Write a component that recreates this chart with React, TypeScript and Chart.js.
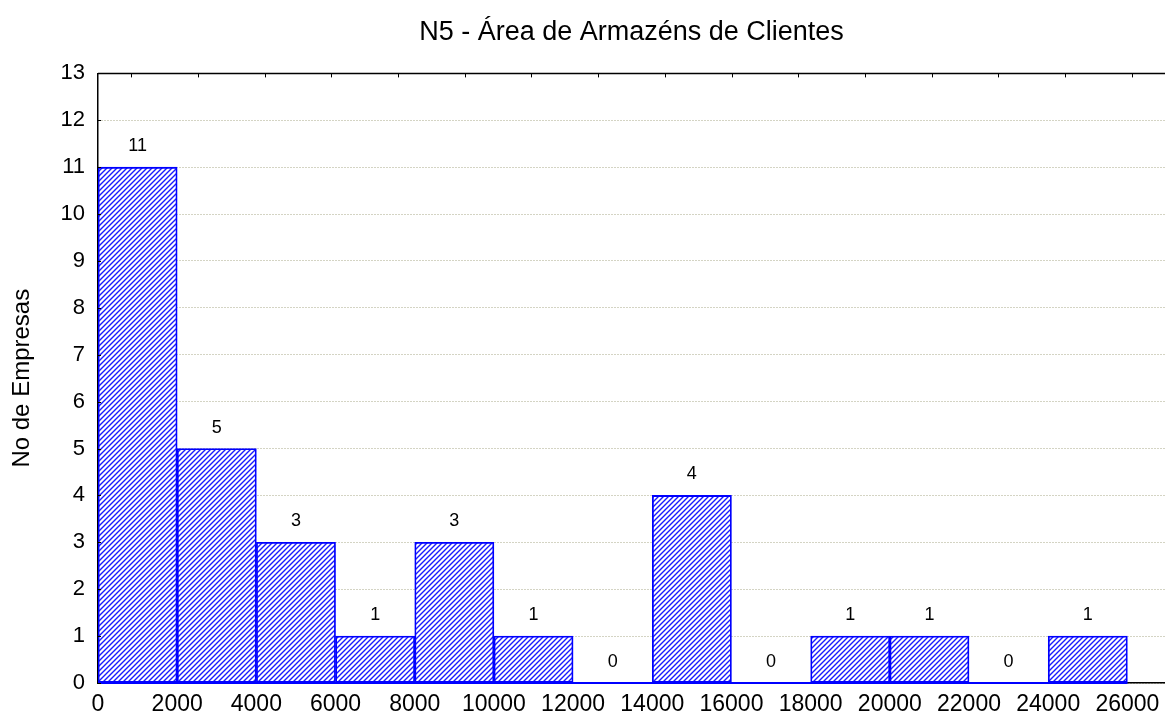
import React, { useEffect, useRef } from "react";
import { Chart, registerables } from "chart.js";

Chart.register(...registerables);

const chartTitle = "N5 - Área de Armazéns de Clientes";
const yAxisTitle = "No de Empresas";
const binStarts = [0, 2000, 4000, 6000, 8000, 10000, 12000, 14000, 16000, 18000, 20000, 22000, 24000];
const binWidth = 2000;
const counts = [11, 5, 3, 1, 3, 1, 0, 4, 0, 1, 1, 0, 1];
const xTickValues = [0, 2000, 4000, 6000, 8000, 10000, 12000, 14000, 16000, 18000, 20000, 22000, 24000, 26000];
const yTickValues = [0, 1, 2, 3, 4, 5, 6, 7, 8, 9, 10, 11, 12, 13];

const FONT = "Arial, 'Liberation Sans', sans-serif";

function makeHatch(): CanvasPattern | string {
  const c = document.createElement("canvas");
  c.width = 5;
  c.height = 5;
  const g = c.getContext("2d");
  if (!g) return "#6666ff";
  g.fillStyle = "#ffffff";
  g.fillRect(0, 0, 5, 5);
  g.strokeStyle = "#1a1aff";
  g.lineWidth = 1.4;
  g.beginPath();
  g.moveTo(-1, 6);
  g.lineTo(6, -1);
  g.moveTo(-1, 1);
  g.lineTo(1, -1);
  g.moveTo(4, 6);
  g.lineTo(6, 4);
  g.stroke();
  const p = g.createPattern(c, "repeat");
  return p || "#6666ff";
}

const decorPlugin = {
  id: "decor",
  afterDatasetsDraw(chart: any) {
    const { ctx, chartArea } = chart;
    const xs = chart.scales.x;
    const ys = chart.scales.y;
    ctx.save();
    // blue baseline under the bins (visible for empty bins)
    ctx.strokeStyle = "#0000ff";
    ctx.lineWidth = 2;
    ctx.beginPath();
    ctx.moveTo(xs.getPixelForValue(binStarts[0]), chartArea.bottom);
    ctx.lineTo(xs.getPixelForValue(binStarts[binStarts.length - 1] + binWidth), chartArea.bottom);
    ctx.stroke();
    // value labels
    const meta = chart.getDatasetMeta(0);
    ctx.fillStyle = "#000";
    ctx.font = `18px ${FONT}`;
    ctx.textAlign = "center";
    ctx.textBaseline = "middle";
    meta.data.forEach((el: any, i: number) => {
      ctx.fillText(String(counts[i]), el.x, el.y - 21);
    });
    // top frame line with small inward ticks
    ctx.strokeStyle = "#000";
    ctx.lineWidth = 1.5;
    ctx.beginPath();
    ctx.moveTo(chartArea.left, chartArea.top);
    ctx.lineTo(chartArea.right, chartArea.top);
    ctx.stroke();
    ctx.lineWidth = 1;
    const n = 16;
    const w = chartArea.right - chartArea.left;
    ctx.beginPath();
    for (let k = 0; k < n; k++) {
      const x = Math.round(chartArea.left + ((k + 0.5) * w) / n) + 0.5;
      ctx.moveTo(x, chartArea.top);
      ctx.lineTo(x, chartArea.top + 4);
    }
    // inward ticks on the left axis
    yTickValues.forEach((v) => {
      const y = Math.round(ys.getPixelForValue(v)) + 0.5;
      ctx.moveTo(chartArea.left, y);
      ctx.lineTo(chartArea.left + 3, y);
    });
    ctx.stroke();
    ctx.restore();
  },
};

export default function App() {
  const ref = useRef<HTMLCanvasElement | null>(null);
  useEffect(() => {
    if (!ref.current) return;
    const hatch = makeHatch();
    const chart = new Chart(ref.current, {
      type: "bar",
      data: {
        datasets: [
          {
            data: binStarts.map((s, i) => ({ x: s + binWidth / 2, y: counts[i] })),
            backgroundColor: hatch as any,
            borderColor: "#0000ff",
            borderWidth: 1.8,
            borderSkipped: false,
            barPercentage: 1,
            categoryPercentage: 1,
          },
        ],
      },
      options: {
        animation: false,
        responsive: true,
        maintainAspectRatio: false,
        layout: { padding: 0 },
        plugins: {
          legend: { display: false },
          tooltip: { enabled: false },
          title: {
            display: true,
            text: chartTitle,
            color: "#000",
            fullSize: false,
            font: { family: FONT, size: 27, weight: "normal" },
            padding: { top: 16, bottom: 25 },
          },
        },
        scales: {
          x: {
            type: "linear",
            offset: false,
            min: 0,
            max: 26950,
            afterBuildTicks: (s: any) => {
              s.ticks = xTickValues.map((v) => ({ value: v }));
            },
            afterFit: (s: any) => {
              s.height = 35;
              s.paddingRight = 0;
              s.paddingLeft = 0;
            },
            ticks: {
              color: "#000",
              font: { family: FONT, size: 23 },
              padding: 8,
              maxRotation: 0,
              autoSkip: false,
              callback: (v: any) => String(v),
            },
            grid: { display: false, drawTicks: false, offset: false },
            border: { display: true, color: "#000", width: 1.5 },
          },
          y: {
            type: "linear",
            min: 0,
            max: 13,
            afterBuildTicks: (s: any) => {
              s.ticks = yTickValues.map((v) => ({ value: v }));
            },
            afterFit: (s: any) => {
              s.width = 98;
            },
            ticks: {
              color: "#000",
              font: { family: FONT, size: 22 },
              padding: 13,
              callback: (v: any) => String(v),
            },
            grid: { color: "#a8a888", lineWidth: 1, drawTicks: false },
            border: { display: true, color: "#000", width: 1.5, dash: [1, 2] },
            title: {
              display: true,
              text: yAxisTitle,
              color: "#000",
              font: { family: FONT, size: 24 },
              padding: { top: 8, bottom: 0 },
            },
          },
        },
      },
      plugins: [decorPlugin],
    });
    return () => chart.destroy();
  }, []);
  return (
    <div style={{ position: "fixed", left: 0, top: 0, width: 1165, height: 718, background: "#fff" }}>
      <canvas ref={ref} />
    </div>
  );
}
